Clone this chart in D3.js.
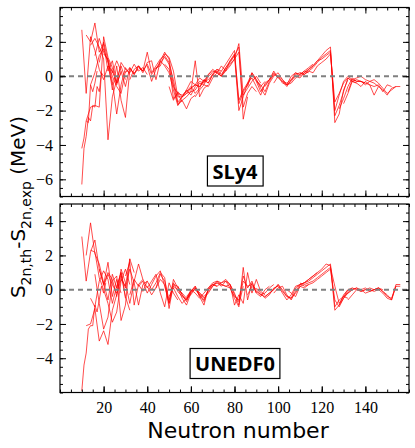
<!DOCTYPE html>
<html>
<head>
<meta charset="utf-8">
<script src="https://cdn.jsdelivr.net/npm/d3@7"></script>
<style>
body { margin: 0; background: #fff; }
</style>
</head>
<body>
<svg id="chart" width="415" height="448"></svg>
<script>
// isotopic chains: [first N, step in N, S2n(th) - S2n(exp) in MeV]
let sly4Light = [
    [10, 1, [-6.3, -4.2, -3.5, -2.4, -2.6, -1.7, -1.8, -0.6, -0.9, 0.2, 0.0]],
    [10, 1, [-4.2, -3.6, -2.6, -2.7, -0.5, -0.9, -0.4, 0.3]],
    [10, 2, [2.7, -1.0, 2.3, 1.5, 0.4, -0.2, 0.6, -0.5]],
    [12, 2, [2.4, 2.0, 3.1, 1.4, 1.9, 0.3, 0.9, -0.4, 0.2]],
    [12, 2, [-2.6, -1.8, -1.7, -1.8, 2.3, 1.1, 0.5, -0.5, 0.3]],
    [14, 2, [1.8, 2.2, 1.7, 1.0, -3.7, -1.2, -0.2, 0.6, -0.2]],
    [16, 2, [1.2, 2.2, 1.4, 0.9, -0.3, -2.2, -0.5, 0.5, 0.1]],
    [18, 2, [0.8, 2.0, 0.9, -0.8, 0.6, -1.4, -2.4, 0.4, 0.2, 0.4]],
    [20, 2, [1.3, 1.0, 0.2, 0.9, 0.3, -0.6, 0.5, 0.1, 0.6, 0.3]],
    [22, 2, [0.6, 0.3, -0.4, 0.8, 0.4, 0.2, 0.7, 0.3, 0.5, 0.1]],
    [14, 2, [-0.5, 0.2, 1.2, 1.6, 0.8, 0.0, -0.6, -1.0, 0.3]]
]
let sly4Mid = [
    [30, 2, [0.2, 0.5, 0.1, 0.6, 0.3, 1.4, 0.2, 0.6, 1.0, 1.2, 0.8, -1.3, -1.0, -1.5]],
    [32, 2, [-0.2, 0.4, 0.6, 0.2, 0.8, 0.9, -0.2, 0.9, 1.4, 1.0, -0.5, -1.6, -1.4, -1.9, -1.3, -1.1]],
    [36, 2, [0.5, 0.3, 0.7, 0.1, 0.5, 0.6, 1.3, 1.1, 0.3, -1.2, -1.2, -1.0, -0.9, 0.9, -1.2, -0.7, -0.5]],
    [40, 2, [0.6, -0.3, 0.4, 0.8, 1.1, 0.7, -0.2, -1.5, -1.2, -1.0, -0.7, -0.5, -0.6, -0.3, -0.2, 0.1, 0.0, 0.3]],
    [44, 2, [0.4, 0.9, 0.6, 0.2, -0.8, -1.7, -1.4, -1.2, -0.9, -0.8, -0.4, -0.5, 0.0, 0.2, 0.4, 0.1, 0.5, 0.8, 1.2, 1.7, -2.5, -1.2]],
    [48, 2, [0.7, 0.4, -0.6, -1.0, -1.1, -0.9, -0.7, -0.5, -0.6, -0.2, -0.4, 0.1, 0.3, 0.0, 0.4, 0.7, 1.0, 1.4, -1.8, -1.0, -0.6, -0.9]],
    [50, 2, [-0.6, -1.4, -0.9, -1.2, -0.8, -0.3, -0.5, -0.1, -0.3, 0.1, 0.3, 0.2, 0.0, 0.3, 0.6, 1.0, 1.9, -1.1, -0.7, -0.3, 0.0, -0.4]],
    [54, 2, [-1.7, -1.2, -0.8, -1.1, -0.6, -0.3, -0.4, 0.1, 0.4, 0.2, 0.6, 0.3, 0.9, 1.3, -1.4, -0.8, -0.4, 0.2, -0.2, -0.6, -0.3]],
    [58, 2, [-0.9, -0.6, -1.0, -0.7, -0.2, -0.4, 0.1, 0.4, 0.3, 0.7, 1.1, 1.5, -1.6, -0.9, -0.5, 0.1, -0.3, -0.9, -0.5, -0.2, 0.1]],
    [62, 2, [-1.2, -0.8, -0.5, -0.6, -0.1, 0.2, 0.0, 0.5, 0.9, 1.2, -2.0, -1.2, -0.4, -0.1, -0.6, -1.1, -0.4, -0.2, 0.3, -0.1]]
]
let sly4Heavy = [
    [86, 2, [-0.6, 0.2, -0.2, -0.7, -1.1, -0.4, 0.0, 0.2, -0.2, -0.5, -0.4, -0.1, 0.1, 0.3, 0.2]],
    [90, 2, [-0.3, -0.5, -0.9, -0.3, 0.1, 0.0, -0.4, -0.5, 0.0, 0.2, 0.1, 0.3, 0.5, 0.7]],
    [94, 2, [-0.6, -0.2, 0.2, -0.1, -0.3, -0.6, -0.2, 0.2, 0.0, 0.2, 0.4, 0.6, 0.9, 1.2, 1.5, 1.7, -2.7, -2.2, -0.8, -0.2]],
    [98, 2, [-0.4, 0.0, -0.2, -0.5, -0.3, 0.1, 0.2, 0.1, 0.3, 0.5, 0.8, 1.1, 1.3, 1.5, -2.3, -1.7, -0.9, -0.1, -0.3, -0.4]],
    [102, 2, [-0.3, -0.4, -0.2, 0.0, -0.1, 0.2, 0.4, 0.6, 0.9, 1.0, 1.2, 1.4, -2.0, -1.1, -0.3, 0.0, -0.2, -0.3, -0.3, -0.4]],
    [110, 2, [0.2, 0.1, 0.3, 0.2, 0.6, 0.8, 1.0, 1.3, -1.5, -1.0, -0.4, -0.1, -0.3, -0.4, -0.6, -0.3, -0.5, -1.1, -0.6]],
    [128, 2, [-1.9, -1.3, -0.6, -0.1, -0.3, -0.3, -0.4, -0.5, -0.6, -0.5, -0.9, -0.5, -0.6]],
    [130, 2, [-1.6, -1.0, -0.3, -0.2, -0.3, -0.5, -0.3, -0.4, -0.6, -0.8, -1.1, -0.7, -0.6, -0.6]],
    [132, 2, [-0.9, -0.2, -0.1, 0.0, -0.2, -0.3, -0.2, -0.4, -0.7, -1.0, -0.8, -0.6]]
]

let unedfLight = [
    [10, 1, [-5.9, -4.4, -3.7, -2.3, -2.1, -2.1, -0.9, -1.3, -0.6, 0.2, -0.2, 0.4]],
    [10, 2, [3.1, 0.5, 2.2, 2.9, 1.2, 0.3, 1.6, -0.4, 0.6, -0.2]],
    [12, 2, [2.0, 3.9, 2.1, 1.5, 0.4, -0.6, 0.9, 0.1, 1.0, -0.5]],
    [12, 2, [-2.1, -2.0, -1.1, -3.0, -2.4, -3.2, -1.2, -0.3, 0.6, 0.2, 1.8]],
    [14, 2, [2.3, 2.2, 0.7, 0.0, -0.8, -1.9, -1.3, 0.5, 1.2, 0.3]],
    [16, 2, [0.9, -0.8, -2.3, -1.6, 0.5, 0.8, -1.8, -0.9, 1.8, 1.0]],
    [18, 2, [1.2, 0.3, 1.0, 0.6, -0.4, 1.2, 0.4, -0.8, 0.5, 1.5, 0.6]],
    [20, 2, [0.2, 0.9, 0.3, -0.2, 0.8, 0.1, 1.2, 0.4, -0.9, 0.3, 0.5]],
    [14, 2, [-0.5, -1.0, 0.5, 1.1, 0.6, -0.8, 0.2, 1.0, -0.4, -1.2]]
]
let unedfMid = [
    [30, 2, [0.8, 1.6, -0.9, 0.3, 0.6, 0.1, 0.5, 0.9, -0.2, -1.0, 0.4, -0.2, -0.6]],
    [32, 2, [-0.3, 0.6, 0.2, 0.5, -0.2, 0.3, 0.8, 1.1, 0.2, -0.8, 0.6, 0.1, -0.5, -0.9, -0.2]],
    [36, 2, [0.3, -0.1, 0.5, 0.0, 0.4, 1.0, 0.7, -1.1, 0.3, 0.2, -0.3, -0.7, -0.1, 0.2, -0.4]],
    [40, 2, [0.2, -0.3, 0.1, 0.9, 0.5, -0.6, 0.4, -0.1, -0.4, -0.6, 0.0, -0.2, -0.5, -0.2, 0.1, 0.3, 0.2]],
    [44, 2, [0.1, 0.6, 0.3, -0.8, 0.2, 0.0, -0.2, -0.5, -0.3, 0.1, -0.3, -0.7, 0.0, 0.3, 0.4, 0.2, 0.5, 0.3, -0.2, -0.9, 0.2]],
    [50, 2, [-0.4, 0.1, -0.4, -0.8, -0.5, -0.1, 0.2, -0.4, -0.9, 0.1, 0.4, 0.5, 0.3, 0.2, 0.1, -0.5, -1.0, 1.3, -0.6, 0.4, -0.2]],
    [54, 2, [0.2, -0.3, -0.6, -0.2, 0.1, -0.2, -0.5, -0.2, 0.2, 0.5, 0.4, 0.6, 0.3, -0.9, -0.3, -0.8, 1.0, -0.2, 0.6, -0.1, -0.3]],
    [58, 2, [-0.4, -0.1, 0.0, -0.3, -0.6, 0.0, 0.3, 0.2, 0.4, 0.5, 0.1, -0.4, -0.6, 0.8, 0.1, 0.5, -0.2, -0.4, 0.0, 0.2]],
    [62, 2, [0.1, -0.2, -0.4, -0.1, 0.2, 0.4, 0.3, 0.2, 0.3, -0.3, -0.7, 0.5, 0.2, 0.3, 0.0, -0.3, -0.2, 0.1, 0.3]]
]
let unedfHeavy = [
    [86, 2, [-0.3, 0.2, -0.1, -0.3, -0.4, -0.2, 0.0, 0.3, -0.1, -0.4, -0.5, -0.2, 0.2, 0.1, 0.3]],
    [90, 2, [0.1, -0.2, -0.5, -0.3, 0.1, 0.2, -0.2, -0.6, -0.3, 0.2, 0.3, 0.4, 0.6, 0.8, 1.0]],
    [94, 2, [-0.4, -0.2, 0.0, 0.3, 0.0, -0.4, -0.5, 0.1, 0.3, 0.4, 0.6, 0.8, 1.0, 1.2, 1.5, 1.4, -1.2, -0.9, -0.3, 0.0]],
    [98, 2, [-0.2, 0.1, 0.2, -0.3, -0.6, -0.1, 0.3, 0.4, 0.5, 0.7, 0.9, 1.1, 1.3, 1.5, -1.0, -0.6, -0.4, -0.5]],
    [104, 2, [0.0, -0.2, -0.4, 0.2, 0.3, 0.4, 0.5, 0.7, 0.9, 1.1, 1.3, 0.2, -0.8, -0.4, 0.0, 0.1]],
    [110, 2, [0.4, 0.2, 0.3, 0.4, 0.6, 0.8, 1.0, 1.2, -0.6, -1.0, -0.5, -0.2, 0.0, 0.1, 0.0, -0.2, -0.1, 0.0, 0.1, 0.0]],
    [128, 2, [-0.9, -0.5, -0.1, 0.1, 0.0, -0.1, 0.0, 0.1, 0.0, 0.1, -0.1, -0.3, -0.6, 0.3, 0.3]],
    [130, 2, [-0.4, -0.2, 0.0, 0.1, -0.1, 0.0, 0.0, -0.1, 0.0, -0.2, -0.5, -0.6, 0.2, 0.2]],
    [132, 2, [-0.6, -0.3, 0.0, 0.0, 0.1, -0.1, 0.0, 0.1, -0.1, -0.4, -0.5, 0.2]]
]

let xTickLabels = [20, 40, 60, 80, 100, 120, 140]
let sly4YTicks = [-6, -4, -2, 0, 2]
let unedfYTicks = [-4, -2, 0, 2, 4]

let svg = d3.select('#chart')
let left = 60, right = 409

let x = d3.scaleLinear().domain([0, 160]).range([left, right])

let panels = [
    { name: 'SLy4', chains: sly4Light.concat(sly4Mid, sly4Heavy), yDomain: [-7, 4], top: 7.5, bottom: 196.5, yTicks: sly4YTicks, xLabels: false, boxY: 171 },
    { name: 'UNEDF0', chains: unedfLight.concat(unedfMid, unedfHeavy), yDomain: [-6, 5], top: 204, bottom: 392.5, yTicks: unedfYTicks, xLabels: true, boxY: 363.5 }
]

let toPoints = (chain) => chain[2].map((v, i) => [chain[0] + i * chain[1], v])

panels.forEach((p, pi) => {
    let y = d3.scaleLinear().domain(p.yDomain).range([p.bottom, p.top])
    let g = svg.append('g')

    g.append('clipPath').attr('id', 'clip' + pi)
        .append('rect')
        .attr('x', left).attr('y', p.top)
        .attr('width', right - left).attr('height', p.bottom - p.top)

    let line = d3.line().x(d => x(d[0])).y(d => y(d[1]))

    g.append('g')
        .attr('clip-path', 'url(#clip' + pi + ')')
        .selectAll('path')
        .data(p.chains)
        .enter()
        .append('path')
        .attr('d', c => line(toPoints(c)))
        .attr('fill', 'none')
        .attr('stroke', '#ff0000')
        .attr('stroke-width', 0.7)
        .attr('stroke-linejoin', 'round')

    // zero reference
    g.append('line')
        .attr('x1', left).attr('x2', right)
        .attr('y1', y(0)).attr('y2', y(0))
        .attr('stroke', '#808080')
        .attr('stroke-width', 2)
        .attr('stroke-dasharray', '5,4')

    // minor ticks on all four sides
    let xMinor = d3.range(0, 161, 5)
    let yMinor = d3.range(p.yDomain[0], p.yDomain[1] + 0.01, 0.5)

    let tickAxes = [
        [d3.axisBottom(x).tickValues(xMinor).tickSize(-3), p.bottom],
        [d3.axisTop(x).tickValues(xMinor).tickSize(-3), p.top],
        [d3.axisBottom(x).tickValues(xTickLabels).tickSize(-6), p.bottom],
        [d3.axisTop(x).tickValues(xTickLabels).tickSize(-6), p.top]
    ]
    tickAxes.forEach(([ax, ty]) => {
        g.append('g').attr('transform', `translate(0,${ty})`)
            .call(ax.tickFormat(''))
            .call(s => s.select('.domain').remove())
    })
    let yAxes = [
        [d3.axisLeft(y).tickValues(yMinor).tickSize(-3), left],
        [d3.axisRight(y).tickValues(yMinor).tickSize(-3), right],
        [d3.axisRight(y).tickValues(p.yTicks).tickSize(-6), right]
    ]
    yAxes.forEach(([ax, tx]) => {
        g.append('g').attr('transform', `translate(${tx},0)`)
            .call(ax.tickFormat(''))
            .call(s => s.select('.domain').remove())
    })

    // labelled left axis
    g.append('g').attr('transform', `translate(${left},0)`)
        .call(d3.axisLeft(y).tickValues(p.yTicks).tickSize(-6).tickPadding(7).tickFormat(d3.format('d')))
        .call(s => s.select('.domain').remove())
        .call(s => s.selectAll('text').style('font-family', '"Liberation Serif", serif').style('font-size', '16px').attr('fill', '#000'))

    if (p.xLabels) {
        g.append('g').attr('transform', `translate(0,${p.bottom})`)
            .call(d3.axisBottom(x).tickValues(xTickLabels).tickSize(-6).tickPadding(9))
            .call(s => s.select('.domain').remove())
            .call(s => s.selectAll('text').style('font-family', '"Liberation Serif", serif').style('font-size', '16px').attr('fill', '#000'))
    }

    g.selectAll('.tick line').attr('stroke', '#000').attr('stroke-width', 1)

    // frame
    g.append('rect')
        .attr('x', left).attr('y', p.top)
        .attr('width', right - left).attr('height', p.bottom - p.top)
        .attr('fill', 'none')
        .attr('stroke', '#000')
        .attr('stroke-width', 1.2)

    // functional label
    let box = g.append('rect').attr('fill', '#fff').attr('stroke', '#000').attr('stroke-width', 1.2)
    let lbl = g.append('text')
        .attr('x', 235).attr('y', p.boxY)
        .attr('text-anchor', 'middle')
        .attr('dominant-baseline', 'central')
        .style('font-family', '"Open Sans", sans-serif')
        .style('font-weight', 'bold')
        .style('font-size', '20px')
        .text(p.name)
    let bb = lbl.node().getBBox()
    box.attr('x', bb.x - 5).attr('y', p.boxY - 15)
        .attr('width', bb.width + 10).attr('height', 30)
})

// axis titles
svg.append('text')
    .attr('x', 238).attr('y', 438)
    .attr('text-anchor', 'middle')
    .style('font-family', '"DejaVu Sans", sans-serif')
    .style('font-size', '22px')
    .text('Neutron number')

let yt = svg.append('text')
    .attr('transform', 'translate(25,207) rotate(-90)')
    .attr('text-anchor', 'middle')
    .style('font-family', '"DejaVu Sans", sans-serif')
    .style('font-size', '20px')
yt.append('tspan').text('S')
yt.append('tspan').attr('dy', 6).style('font-size', '14px').text('2n,th')
yt.append('tspan').attr('dy', -6).text('-S')
yt.append('tspan').attr('dy', 6).style('font-size', '14px').text('2n,exp')
yt.append('tspan').attr('dy', -6).text(' (MeV)')
</script>
</body>
</html>
